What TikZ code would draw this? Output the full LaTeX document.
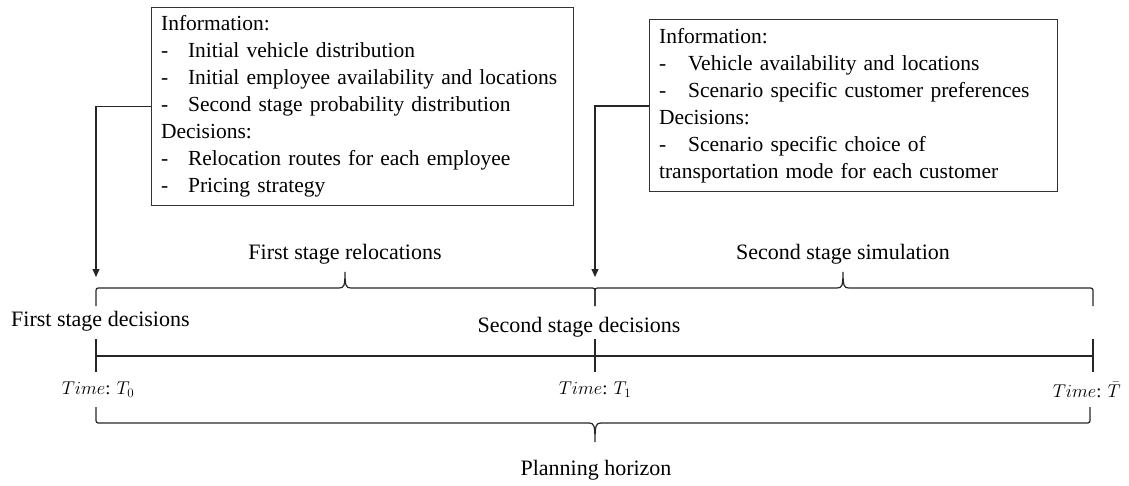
\RequirePackage{fix-cm}
\documentclass[tikz,border=0pt]{standalone}
\usepackage{fontspec}
\setmainfont{Liberation Serif}
\usetikzlibrary{arrows.meta}
\newcommand\tlupbrace[3]{%
  \draw[ln] (#1,306) -- (#1,293) .. controls (#1,288) .. (#1+5,288) -- (#2-6,288)
    .. controls (#2-1,288) and (#2,286) .. (#2,272)
    .. controls (#2,286) and (#2+1,288) .. (#2+6,288) -- (#3-5,288)
    .. controls (#3,288) .. (#3,293) -- (#3,306);}
\newcommand\dsh{\makebox[27pt][l]{-}}
\newcommand\dshb{\makebox[29pt][l]{-}}
\begin{document}
\begin{tikzpicture}[x=1pt,y=-1pt,
  txt/.style={font=\fontsize{22}{27}\selectfont, inner sep=0pt},
  mtxt/.style={font=\fontsize{18.5}{23}\selectfont, inner sep=0pt},
  infobox/.style={draw=black!80, line width=1.2pt, font=\fontsize{21.5}{27}\selectfont,
    align=left, inner xsep=9.5pt, inner ysep=0pt, anchor=north west},
  ln/.style={line width=1.2pt, draw=black!85},
  arr/.style={ln, -{Triangle[length=8pt,width=7pt]}}]
\useasboundingbox (0,0) rectangle (1129,485);

\node[infobox, text width=403pt, minimum height=198pt] (info1) at (151,7) {%
Information:\\
\dsh Initial vehicle distribution\\
\mbox{\dsh Initial employee availability and locations}\\
\mbox{\dsh Second stage probability distribution}\\
Decisions:\\
\mbox{\dsh Relocation routes for each employee}\\
\dsh Pricing strategy};

\node[infobox, text width=389pt, minimum height=172pt] (info2) at (649,19) {%
Information:\\
\mbox{\dshb Vehicle availability and locations}\\
\mbox{\dshb Scenario specific customer preferences}\\
Decisions:\\
\mbox{\dshb Scenario specific choice of}\\
\mbox{transportation mode for each customer}};

\coordinate (a1) at (96,277);
\coordinate (a2) at (595,277);
\draw[arr] (info1.west) -| (a1);
\draw[arr] (info2.west |- 0,106) -| (a2);

% upper braces
\tlupbrace{96}{345}{595}
\tlupbrace{595}{843}{1093}

% timeline
\coordinate (p0) at (96,356);
\coordinate (p1) at (595,356);
\coordinate (p2) at (1093,356);
\draw[ln] (p0) -- (p2);
\foreach \x in {96,595,1093} \draw[ln] (\x,339) -- (\x,372);

% bottom brace
\draw[ln] (96,407) -- (96,418) .. controls (96,423) .. (101,423) -- (589,423)
  .. controls (594,423) and (595,425) .. (595,442)
  .. controls (595,425) and (596,423) .. (601,423) -- (1085,423)
  .. controls (1090,423) .. (1090,418) -- (1090,407);

\node[txt] (fsr) at (345,254) {First stage relocations};
\node[txt] (sss) at (843,254) {Second stage simulation};
\node[txt, anchor=west] (fsd) at (11,321) {First stage decisions};
\node[txt] (ssd) at (579,327) {Second stage decisions};
\node[mtxt] (t0) at (98,390) {$Time$: $T_0$};
\node[mtxt] (t1) at (595,390) {$Time$: $T_1$};
\node[mtxt, anchor=east] (tb) at (1121,390) {$Time$: $\bar{T}$};
\node[txt] (ph) at (596,470) {Planning horizon};
\end{tikzpicture}
\end{document}
